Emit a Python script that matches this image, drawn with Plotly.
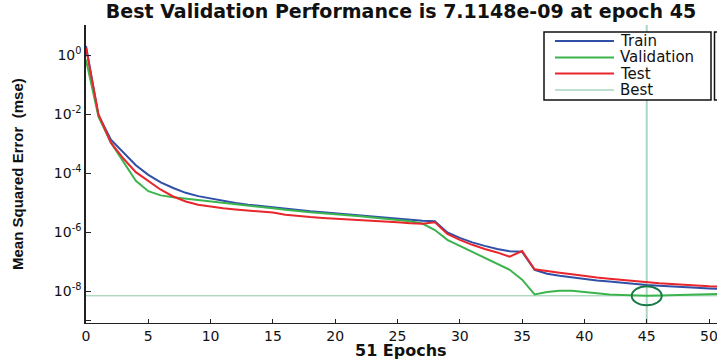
import plotly.graph_objects as go

# ---------------- data ----------------
epochs = list(range(0, 52))

train_mse = [2.1, 9.3e-3, 1.4e-3, 5.0e-4, 1.9e-4, 8.9e-5, 5.0e-5, 3.2e-5, 2.2e-5, 1.7e-5,
             1.4e-5, 1.15e-5, 1.0e-5, 8.7e-6, 7.8e-6, 7.1e-6, 6.5e-6, 5.9e-6, 5.2e-6, 4.8e-6,
             4.4e-6, 4.1e-6, 3.7e-6, 3.4e-6, 3.2e-6, 2.9e-6, 2.7e-6, 2.5e-6, 2.4e-6, 1.0e-6,
             6.5e-7, 4.6e-7, 3.5e-7, 2.75e-7, 2.3e-7, 2.2e-7, 5.4e-8, 4.0e-8, 3.4e-8, 2.95e-8,
             2.6e-8, 2.35e-8, 2.15e-8, 1.95e-8, 1.8e-8, 1.65e-8, 1.55e-8, 1.45e-8, 1.38e-8, 1.32e-8,
             1.26e-8, 1.2e-8]

validation_mse = [7.1e-1, 8.3e-3, 1.1e-3, 2.5e-4, 5.6e-5, 2.5e-5, 1.8e-5, 1.55e-5, 1.4e-5, 1.26e-5,
                  1.15e-5, 1.05e-5, 9.3e-6, 8.3e-6, 7.4e-6, 6.6e-6, 5.9e-6, 5.2e-6, 4.8e-6, 4.5e-6,
                  4.2e-6, 3.8e-6, 3.5e-6, 3.2e-6, 2.9e-6, 2.7e-6, 2.4e-6, 2.0e-6, 1.2e-6, 5.6e-7,
                  3.5e-7, 2.1e-7, 1.3e-7, 8.5e-8, 5.4e-8, 2.5e-8, 7.9e-9, 9.5e-9, 1.05e-8, 1.05e-8,
                  9.5e-9, 8.5e-9, 7.9e-9, 7.6e-9, 7.3e-9, 7.1148e-9, 7.3e-9, 7.5e-9, 7.7e-9, 7.9e-9,
                  8.0e-9, 8.2e-9]

test_mse = [1.8, 1.0e-2, 1.1e-3, 3.2e-4, 1.1e-4, 5.4e-5, 2.8e-5, 1.65e-5, 1.12e-5, 8.7e-6,
            7.4e-6, 6.6e-6, 6.0e-6, 5.5e-6, 5.0e-6, 4.7e-6, 4.0e-6, 3.55e-6, 3.3e-6, 3.1e-6,
            2.95e-6, 2.75e-6, 2.6e-6, 2.45e-6, 2.35e-6, 2.2e-6, 2.05e-6, 1.95e-6, 2.2e-6, 8.9e-7,
            5.6e-7, 3.8e-7, 2.75e-7, 2.1e-7, 1.5e-7, 2.35e-7, 5.6e-8, 4.8e-8, 4.3e-8, 3.8e-8,
            3.3e-8, 2.95e-8, 2.7e-8, 2.45e-8, 2.25e-8, 2.05e-8, 1.9e-8, 1.8e-8, 1.65e-8, 1.6e-8,
            1.5e-8, 1.45e-8]

best_epoch = 45
best_value = 7.1148e-9

series_names = ["Train", "Validation", "Test", "Best"]
series_colors = ["#3050a8", "#3cb44e", "#e8262c", "#a9d6c0"]

x_tick_vals = [0, 5, 10, 15, 20, 25, 30, 35, 40, 45, 50]
y_tick_vals = [1e1, 1e0, 1e-2, 1e-4, 1e-6, 1e-8, 1e-9]
y_tick_text = ["", "10<sup>0</sup>", "10<sup>-2</sup>", "10<sup>-4</sup>", "10<sup>-6</sup>",
               "10<sup>-8</sup>", ""]

title_text = "Best Validation Performance is 7.1148e-09 at epoch 45"
x_label = "51 Epochs"
y_label = "Mean Squared Error  (mse)"

# ---------------- layout geometry ----------------
import math

W, H = 717, 361
ML, MR, MT, MB = 86, 0, 25, 38
PW, PH = W - ML - MR, H - MT - MB
x_range = [0, 50.64]
y_range = [-9.07, 1.03]   # log10 units


def px(xp):
    return (xp - ML) / PW


def py(yp):
    return (H - MB - yp) / PH


def y_paper(v):
    return (math.log10(v) - y_range[0]) / (y_range[1] - y_range[0])


def x_paper(v):
    return (v - x_range[0]) / (x_range[1] - x_range[0])


fig = go.Figure()

# best lines (below the curves)
fig.add_shape(type="line", xref="paper", yref="paper", x0=0, x1=1,
              y0=y_paper(best_value), y1=y_paper(best_value),
              line=dict(color="#8fcaa9", width=1), layer="below")
fig.add_shape(type="line", xref="paper", yref="paper", x0=x_paper(best_epoch), x1=x_paper(best_epoch),
              y0=0, y1=1, line=dict(color=series_colors[3], width=2), layer="below")

for name, vals, col in zip(series_names[:3], [train_mse, validation_mse, test_mse], series_colors[:3]):
    fig.add_trace(go.Scatter(x=epochs, y=vals, mode="lines", name=name,
                             line=dict(color=col, width=2), showlegend=False))

# circle around the best point (30 x 19 px)
cx, cy = x_paper(best_epoch), y_paper(best_value)
fig.add_shape(type="circle", xref="paper", yref="paper",
              x0=cx - 15 / PW, x1=cx + 15 / PW, y0=cy - 9.5 / PH, y1=cy + 9.5 / PH,
              line=dict(color="#187a46", width=2))

# manual legend
fig.add_shape(type="rect", xref="paper", yref="paper", x0=px(544), x1=px(711), y0=py(100), y1=py(32),
              line=dict(color="#111", width=1.5), fillcolor="white")
fig.add_shape(type="path", xref="paper", yref="paper",
              path=f"M {px(718)},{py(32)} L {px(714.5)},{py(32)} L {px(714.5)},{py(100)} L {px(718)},{py(100)}",
              line=dict(color="#111", width=1.5))
rows = [41, 57.5, 73.5, 90]
for name, col, ry in zip(series_names, series_colors, rows):
    fig.add_shape(type="line", xref="paper", yref="paper", x0=px(555), x1=px(614), y0=py(ry), y1=py(ry),
                  line=dict(color=col, width=2 if name != "Best" else 1.5))
    fig.add_annotation(xref="paper", yref="paper", x=px(619), y=py(ry), text=name, showarrow=False,
                       xanchor="left", yanchor="middle", borderpad=0,
                       font=dict(family="DejaVu Sans", size=15, color="#111"))

# axis labels
fig.add_annotation(xref="paper", yref="paper", x=px(401), y=py(350), text=f"<b>{x_label}</b>",
                   showarrow=False, xanchor="center", yanchor="middle", borderpad=0,
                   font=dict(family="DejaVu Sans", size=16, color="#111"))
fig.add_annotation(xref="paper", yref="paper", x=px(17), y=py(174), text=f"<b>{y_label}</b>",
                   showarrow=False, xanchor="center", yanchor="middle", textangle=-90,
                   font=dict(family="Liberation Sans Narrow, Liberation Sans", size=15, color="#111"))

fig.update_layout(
    template="none",
    width=W, height=H,
    margin=dict(l=ML, r=MR, t=MT, b=MB, autoexpand=False),
    paper_bgcolor="white", plot_bgcolor="white",
    title=dict(text=f"<b>{title_text}</b>", x=401 / W, xanchor="center", xref="container",
               y=1 - 11 / H, yanchor="middle", yref="container",
               font=dict(family="DejaVu Sans", size=19, color="#111")),
    showlegend=False,
    xaxis=dict(range=x_range, tickmode="array", tickvals=x_tick_vals, ticks="inside", ticklen=4,
               tickcolor="#222", showline=True, linecolor="#222", linewidth=1.2, showgrid=False,
               zeroline=False, automargin=False, ticklabeloverflow="allow",
               tickfont=dict(family="DejaVu Sans", size=14, color="#111")),
    yaxis=dict(type="log", range=y_range, tickmode="array", tickvals=y_tick_vals, ticktext=y_tick_text,
               ticks="inside", ticklen=5, tickcolor="#222", showline=True, linecolor="#222",
               linewidth=1.5, showgrid=False, zeroline=False, automargin=False,
               tickfont=dict(family="DejaVu Sans", size=14, color="#111")),
)

fig.write_html("out.html", config={"displayModeBar": False},
               post_script="document.body.style.margin='0';document.body.style.overflow='hidden';")
